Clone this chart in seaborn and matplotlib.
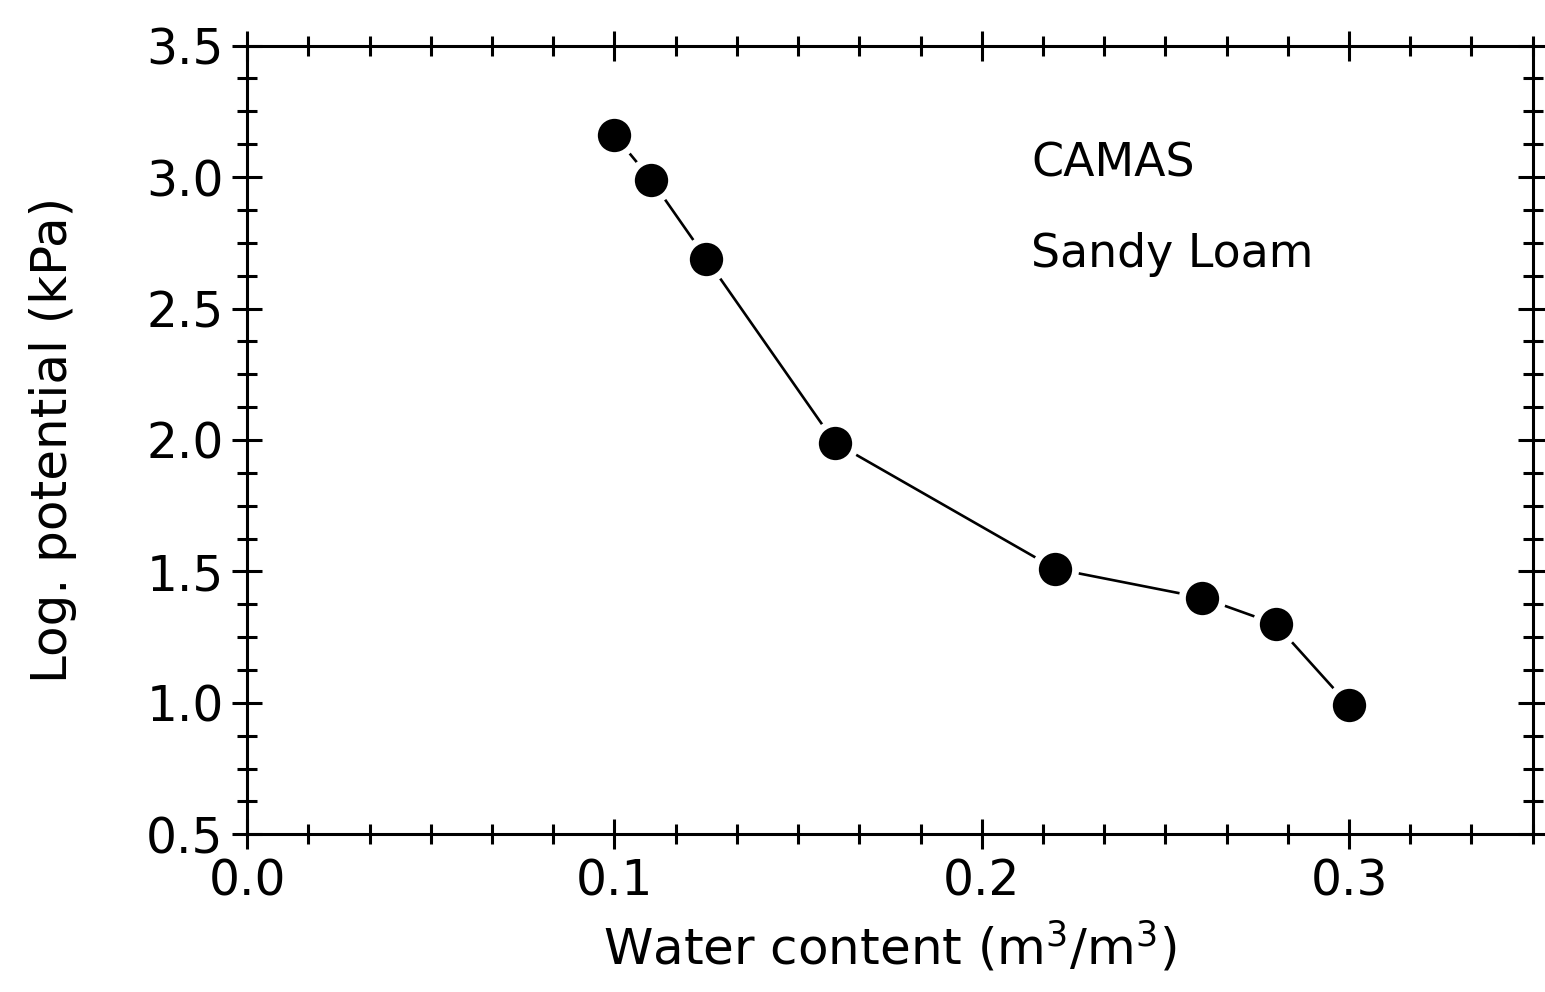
import matplotlib
matplotlib.use("Agg")
import matplotlib.pyplot as plt
import seaborn as sns
import pandas as pd
from matplotlib.ticker import MultipleLocator

# Water retention data for Camas sandy loam
water_content = [0.100, 0.110, 0.125, 0.160, 0.220, 0.260, 0.280, 0.300]
log_potential = [3.16, 2.99, 2.69, 1.99, 1.51, 1.40, 1.30, 0.99]

x_ticks = [0.0, 0.1, 0.2, 0.3]
y_ticks = [0.5, 1.0, 1.5, 2.0, 2.5, 3.0, 3.5]

df = pd.DataFrame({"theta": water_content, "logpsi": log_potential})

sns.set_theme(style="ticks")
plt.rcParams["font.family"] = ["DejaVu Sans"]
plt.rcParams["text.color"] = "black"
plt.rcParams["axes.labelcolor"] = "black"
plt.rcParams["xtick.color"] = "black"
plt.rcParams["ytick.color"] = "black"

fig = plt.figure(figsize=(15.45, 9.92), dpi=100)
ax = fig.add_axes([0.160, 0.159, 0.832, 0.795])

sns.lineplot(data=df, x="theta", y="logpsi", sort=False, ax=ax,
             color="black", linewidth=1.9, marker="o", markersize=29,
             markerfacecolor="black", markeredgecolor="white",
             markeredgewidth=5)

ax.set_xlim(0.0, 0.35)
ax.set_ylim(0.5, 3.5)
ax.set_xticks(x_ticks)
ax.set_xticklabels(["0.0", "0.1", "0.2", "0.3"])
ax.set_yticks(y_ticks)
ax.set_yticklabels([f"{v:.1f}" for v in y_ticks])
ax.xaxis.set_minor_locator(MultipleLocator(0.1 / 6))
ax.yaxis.set_minor_locator(MultipleLocator(0.125))

for side in ["left", "right", "top", "bottom"]:
    ax.spines[side].set_visible(True)
    ax.spines[side].set_linewidth(2.2)
    ax.spines[side].set_color("black")

ax.tick_params(which="major", direction="inout", length=22, width=2.2,
               top=True, right=True, labelsize=35, pad=6)
ax.tick_params(which="minor", direction="inout", length=14, width=2.2,
               top=True, right=True)

ax.set_xlabel("Water content (m$^3$/m$^3$)", fontsize=36, labelpad=10)
ax.set_ylabel("Log. potential (kPa)", fontsize=36, labelpad=50)

ax.text(0.61, 0.85, "CAMAS", transform=ax.transAxes, fontsize=33,
        ha="left", va="center")
ax.text(0.61, 0.735, "Sandy Loam", transform=ax.transAxes, fontsize=33,
        ha="left", va="center")

fig.savefig("out.png", dpi=100, facecolor="white")
